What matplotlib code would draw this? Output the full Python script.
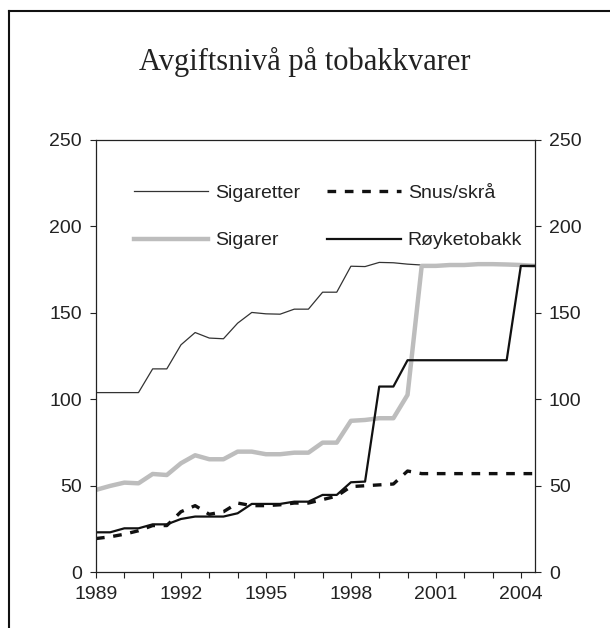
import numpy as np
import matplotlib.pyplot as plt
from matplotlib.lines import Line2D

# half-year periods, 1989 H1 .. 2004 H2
periods = 1989 + 0.5 * np.arange(32)

sigaretter = [103.8, 103.8, 103.8, 103.8, 117.5, 117.5, 131.4, 138.5, 135.3, 134.9,
              143.9, 150.1, 149.3, 149.1, 152.0, 152.0, 161.8, 161.8, 176.8, 176.6,
              179.0, 178.8, 178.0, 177.5, 177.5, 177.0, 177.5, 178.0, 178.0, 177.8,
              177.0, 177.0]
sigarer = [47.6, 49.9, 51.8, 51.4, 56.8, 56.2, 63.0, 67.6, 65.3, 65.3,
           69.7, 69.7, 68.2, 68.2, 69.1, 69.1, 74.9, 74.9, 87.5, 88.0,
           89.0, 89.0, 102.5, 177.0, 177.0, 177.5, 177.5, 178.0, 178.0, 177.8,
           177.5, 177.0]
snus = [19.5, 20.5, 22.0, 24.0, 27.0, 27.0, 35.0, 38.5, 33.5, 35.0,
        40.0, 38.5, 38.5, 39.0, 40.0, 40.0, 42.0, 44.0, 49.5, 50.0,
        50.5, 51.0, 58.5, 57.0, 57.0, 57.0, 57.0, 57.0, 57.0, 57.0,
        57.0, 57.0]
royketobakk = [23.1, 23.1, 25.4, 25.4, 27.7, 27.7, 30.8, 32.2, 32.2, 32.2,
               34.1, 39.5, 39.5, 39.5, 40.8, 40.8, 44.7, 44.7, 52.0, 52.4,
               107.3, 107.3, 122.5, 122.5, 122.5, 122.5, 122.5, 122.5, 122.5, 122.5,
               177.0, 177.0]

year_ticks = np.arange(1989, 2005)
year_labels = [str(y) if (y - 1989) % 3 == 0 else '' for y in year_ticks]
y_ticks = [0, 50, 100, 150, 200, 250]

plt.rcParams['font.family'] = ['Liberation Sans', 'DejaVu Sans']
txt = '#222222'

fig = plt.figure(figsize=(6.1, 6.28), dpi=100)
ax = fig.add_axes([96 / 610, 1 - 572.3 / 628, (535 - 96) / 610, (572.3 - 139.5) / 628])

l1, = ax.plot(periods, sigaretter, color='#333333', lw=0.9, label='Sigaretter')
l2, = ax.plot(periods, sigarer, color='#bdbdbd', lw=3.2, label='Sigarer')
l3, = ax.plot(periods, snus, color='#111111', lw=2.4, ls=(0, (2.6, 2.6)), label='Snus/skrå')
l4, = ax.plot(periods, royketobakk, color='#111111', lw=1.6, label='Røyketobakk')

ax.set_xlim(1989, 2004.5)
ax.set_ylim(0, 250)
ax.set_xticks(year_ticks)
ax.set_xticklabels(year_labels)
ax.set_yticks(y_ticks)
ax.tick_params(axis='both', direction='out', length=4, width=0.8, labelsize=14,
               colors=txt, pad=6)
ax.tick_params(axis='y', right=True, labelright=True)
ax.spines['top'].set_visible(False)
for s in ax.spines.values():
    s.set_linewidth(0.9)
    s.set_color('#222222')
# top line of the plot area
ax.axhline(250, color='#222222', lw=0.9, clip_on=False)

fig.text(0.5, 1 - 62 / 628, 'Avgiftsnivå på tobakkvarer', ha='center', va='center',
         fontsize=22, family=['Liberation Serif', 'DejaVu Serif'], color=txt)

fig.legend(handles=[l1, l2, l3, l4], ncol=2, loc='upper left',
           bbox_to_anchor=(134 / 610, 1 - 184 / 628), frameon=False, fontsize=14,
           handlelength=3.8, handletextpad=0.35, columnspacing=1.4,
           labelspacing=1.55, borderpad=0, borderaxespad=0, labelcolor=txt)

# outer frame (left and top edges visible)
fig.add_artist(Line2D([9 / 610, 9 / 610], [0, 1 - 11 / 628], transform=fig.transFigure,
                      color='#111111', lw=1.5))
fig.add_artist(Line2D([9 / 610, 1], [1 - 11 / 628, 1 - 11 / 628], transform=fig.transFigure,
                      color='#111111', lw=1.5))

fig.savefig('out.png', dpi=100)
